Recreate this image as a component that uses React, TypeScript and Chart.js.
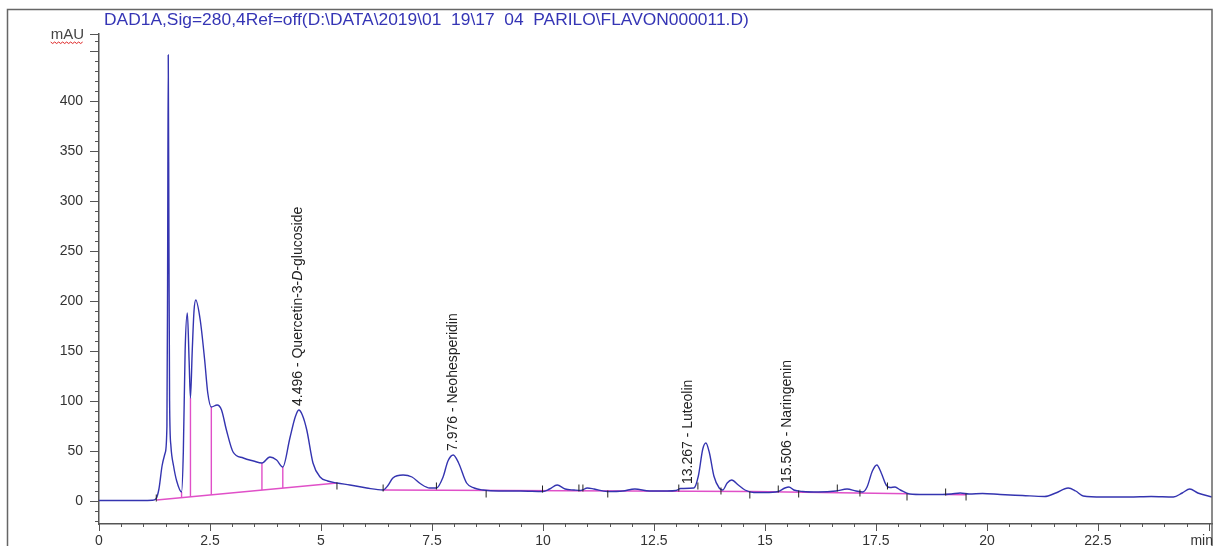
import React, { useEffect, useRef } from 'react';
import { Chart, registerables } from 'chart.js';

Chart.register(...registerables);

// ---------- data ----------
const TITLE = 'DAD1A,Sig=280,4Ref=off(D:\\DATA\\2019\\01  19\\17  04  PARILO\\FLAVON000011.D)';
const Y_UNIT = 'mAU';
const X_UNIT = 'min';

// retention time (min)
const timeMin = [
  0.0, 0.5, 1.0, 1.2, 1.28, 1.35, 1.42, 1.49, 1.53, 1.545, 1.56, 1.575, 1.59, 1.62, 1.68, 1.75, 1.86,
  1.9, 1.94, 1.99, 2.03, 2.06, 2.1, 2.14, 2.18, 2.28, 2.38, 2.45, 2.53, 2.66, 2.76, 2.87, 3.02, 3.25,
  3.48, 3.67, 3.85, 4.0, 4.14, 4.3, 4.42, 4.5, 4.58, 4.68, 4.82, 4.98, 5.15, 5.36, 5.65, 6.03, 6.4,
  6.5, 6.62, 6.85, 7.05, 7.25, 7.45, 7.6, 7.75, 7.86, 7.98, 8.1, 8.28, 8.45, 8.65, 9.0, 9.5, 10.0,
  10.15, 10.32, 10.5, 10.7, 10.85, 11.0, 11.15, 11.45, 11.8, 12.07, 12.4, 12.8, 13.0, 13.1, 13.4,
  13.5, 13.6, 13.67, 13.75, 13.85, 13.97, 14.05, 14.15, 14.25, 14.4, 14.55, 14.75, 15.0, 15.3, 15.45,
  15.54, 15.65, 15.85, 16.2, 16.6, 16.85, 17.05, 17.2, 17.3, 17.42, 17.52, 17.62, 17.73, 17.82, 17.93,
  18.05, 18.26, 18.6, 19.0, 19.2, 19.4, 19.6, 19.9, 20.3, 20.8, 21.3, 21.55, 21.83, 22.0, 22.17, 22.6,
  23.2, 23.7, 24.2, 24.4, 24.57, 24.75, 25.07,
];
// absorbance (mAU)
const absorbance = [
  0.5, 0.5, 0.5, 0.8, 2, 12, 35, 48, 75, 220, 446, 260, 100, 55, 35, 20, 9,
  50, 150, 188, 140, 103, 150, 190, 201, 181, 141, 108, 94, 96, 91, 71, 49, 43,
  40, 38, 44, 41, 34, 63, 84, 91, 86, 71, 38, 24, 20, 18, 16, 13, 11,
  15, 23, 26, 24, 17, 13, 13, 24, 40, 46, 38, 18, 13, 11, 10, 10, 9.5,
  12, 16, 12, 11, 10.5, 13, 12, 9.5, 10, 12, 10, 10, 10.5, 12.5, 13,
  25, 52, 58, 48, 25, 13, 11, 18, 21, 16, 11, 8.5, 8.5, 9.5, 13,
  14, 11, 9.5, 9, 10, 12, 10, 9, 14, 30, 36, 28, 16, 13.5, 14,
  11, 7, 6.5, 6.5, 7, 8, 7, 7.5, 6.5, 5.5, 4.5, 8, 13, 10, 5, 4,
  4, 4.5, 4, 8, 12, 8, 4,
];

// integration baselines (time, mAU)
const baseline1Time = [1.3, 5.36];
const baseline1Value = [1, 18];
const baseline2Time = [6.4, 14.7, 18.25];
const baseline2Value = [11, 9.5, 7.3];
const baseline3Time = [19.07, 19.53];
const baseline3Value = [6.5, 6.3];

// drop lines between unresolved peaks
const dropTime = [1.86, 2.06, 2.53, 3.67, 4.14];
const dropBottom = [3.3, 4.2, 6.2, 10.9, 12.9];
const dropTop = [9, 103, 94, 38, 34];

// peak start / end markers
const markerTime = [1.29, 5.36, 6.4, 7.6, 8.72, 9.99, 10.81, 10.9, 11.46, 13.06, 13.49, 14.01, 14.66, 15.3, 15.76, 16.63, 17.14, 17.76, 18.2, 19.07, 19.53];
const markerValue = [3, 15, 13, 15, 7, 12, 13, 13, 7, 13, 15, 10, 6, 12, 7, 13, 8, 15, 4, 9, 4];

// peak annotations
const peakTime = [4.496, 7.976, 13.267, 15.506];
const peakName = ['Quercetin-3-_D_-glucoside', 'Neohesperidin', 'Luteolin', 'Naringenin'];
const peakHeight = [91, 46, 13, 14];

// axis
const X_MIN = 0;
const X_MAX = 25.07;
const Y_MIN = -23;
const Y_MAX = 467;
const xTickLabels = ['0', '2.5', '5', '7.5', '10', '12.5', '15', '17.5', '20', '22.5'];
const yTickLabels = ['0', '50', '100', '150', '200', '250', '300', '350', '400'];

const FONT = '"Liberation Sans", Arial, sans-serif';
const CURVE = '#3434b0';
const PINK = '#e050c8';

const pts = (xs: number[], ys: (number | null)[]) => xs.map((x, i) => ({ x, y: ys[i] }));

const decorations = {
  id: 'decorations',
  afterDraw(chart: any) {
    const { ctx, scales } = chart;
    const xs = scales.x;
    const ys = scales.y;
    const area = chart.chartArea;
    ctx.save();

    // outer frame
    ctx.strokeStyle = '#666';
    ctx.lineWidth = 1.5;
    ctx.strokeRect(7.5, 9.5, area.right - 7.5, 600);

    // title
    ctx.fillStyle = '#3535b5';
    ctx.font = `17.4px ${FONT}`;
    ctx.textBaseline = 'middle';
    ctx.textAlign = 'left';
    ctx.fillText(TITLE, 104, 20);

    // y ticks
    ctx.strokeStyle = '#555';
    ctx.lineWidth = 1;
    for (let v = -20; v <= 460; v += 10) {
      const y = Math.round(ys.getPixelForValue(v)) + 0.5;
      const len = v % 50 === 0 ? 9 : 4;
      ctx.beginPath();
      ctx.moveTo(area.left - len, y);
      ctx.lineTo(area.left, y);
      ctx.stroke();
    }
    {
      const y = Math.round(ys.getPixelForValue(Y_MAX)) + 0.5;
      ctx.beginPath();
      ctx.moveTo(area.left - 9, y);
      ctx.lineTo(area.left, y);
      ctx.stroke();
    }
    // x ticks
    for (let i = 0; i <= 50; i++) {
      const t = i * 0.5;
      const x = Math.round(xs.getPixelForValue(t)) + 0.5;
      const len = i % 5 === 0 ? 7 : 3;
      ctx.beginPath();
      ctx.moveTo(x, area.bottom);
      ctx.lineTo(x, area.bottom + len);
      ctx.stroke();
    }

    // unit labels
    ctx.fillStyle = '#444';
    ctx.font = `15px ${FONT}`;
    ctx.textAlign = 'right';
    ctx.textBaseline = 'middle';
    const yTop = ys.getPixelForValue(Y_MAX);
    ctx.fillText(Y_UNIT, area.left - 15, yTop + 1);
    const w = ctx.measureText(Y_UNIT).width;
    // spell-check squiggle
    ctx.strokeStyle = '#d22';
    ctx.lineWidth = 1;
    ctx.beginPath();
    const sx = area.left - 15 - w;
    for (let k = 0; k <= w; k += 2) {
      const yy = yTop + 8 + (k % 4 === 0 ? 0 : 1.5);
      if (k === 0) ctx.moveTo(sx + k, yy);
      else ctx.lineTo(sx + k, yy);
    }
    ctx.stroke();

    ctx.fillStyle = '#333';
    ctx.font = `14px ${FONT}`;
    ctx.textAlign = 'right';
    ctx.fillText(X_UNIT, area.right + 1, area.bottom + 17);

    // peak annotations
    ctx.fillStyle = '#222';
    for (let i = 0; i < peakTime.length; i++) {
      const x = xs.getPixelForValue(peakTime[i]);
      const y = ys.getPixelForValue(peakHeight[i]) - 4;
      ctx.save();
      ctx.translate(x, y);
      ctx.rotate(-Math.PI / 2);
      ctx.textAlign = 'left';
      ctx.textBaseline = 'middle';
      let cx = 0;
      const parts = (peakTime[i].toFixed(3) + ' - ' + peakName[i]).split('_');
      parts.forEach((p, j) => {
        ctx.font = `${j % 2 === 1 ? 'italic ' : ''}14px ${FONT}`;
        ctx.fillText(p, cx, 0);
        cx += ctx.measureText(p).width;
      });
      ctx.restore();
    }
    ctx.restore();
  },
};

export default function App() {
  const ref = useRef<HTMLCanvasElement | null>(null);

  useEffect(() => {
    if (!ref.current) return;
    const dropData: { x: number; y: number | null }[] = [];
    dropTime.forEach((t, i) => {
      dropData.push({ x: t, y: dropBottom[i] }, { x: t, y: dropTop[i] }, { x: t, y: null });
    });

    const chart = new Chart(ref.current, {
      type: 'scatter',
      data: {
        datasets: [
          {
            data: pts(markerTime, markerValue),
            showLine: false,
            pointStyle: 'line',
            rotation: 90,
            pointRadius: 3.5,
            borderColor: '#222',
            borderWidth: 1,
          } as any,
          {
            data: pts(timeMin, absorbance),
            showLine: true,
            borderColor: CURVE,
            borderWidth: 1.4,
            pointRadius: 0,
            cubicInterpolationMode: 'monotone',
          },
          {
            data: pts(baseline1Time, baseline1Value),
            showLine: true,
            borderColor: PINK,
            borderWidth: 1.4,
            pointRadius: 0,
          },
          {
            data: pts(baseline2Time, baseline2Value),
            showLine: true,
            borderColor: PINK,
            borderWidth: 1.4,
            pointRadius: 0,
          },
          {
            data: pts(baseline3Time, baseline3Value),
            showLine: true,
            borderColor: PINK,
            borderWidth: 1.4,
            pointRadius: 0,
          },
          {
            data: dropData as any,
            showLine: true,
            spanGaps: false,
            borderColor: PINK,
            borderWidth: 1.4,
            pointRadius: 0,
          },
        ],
      },
      options: {
        responsive: false,
        animation: false,
        devicePixelRatio: 1,
        events: [],
        layout: { padding: { left: 0, right: 6, top: 34, bottom: 0 } },
        plugins: { legend: { display: false }, tooltip: { enabled: false } },
        scales: {
          x: {
            type: 'linear',
            min: X_MIN,
            max: X_MAX,
            grid: { display: false, drawTicks: false },
            border: { display: true, color: '#555', width: 1.5 },
            ticks: {
              stepSize: 2.5,
              autoSkip: false,
              maxRotation: 0,
              padding: 9,
              color: '#333',
              font: { family: FONT, size: 14 },
              callback: (v: any) => {
                const k = Math.round(Number(v) / 2.5);
                if (Math.abs(Number(v) - k * 2.5) > 1e-6) return '';
                return xTickLabels[k] ?? '';
              },
            },
            afterFit: (s: any) => {
              s.height = 22;
              s.paddingLeft = 0;
              s.paddingRight = 0;
            },
          },
          y: {
            type: 'linear',
            min: Y_MIN,
            max: Y_MAX,
            grid: { display: false, drawTicks: false },
            border: { display: true, color: '#555', width: 1.5 },
            ticks: {
              stepSize: 50,
              autoSkip: false,
              padding: 16,
              color: '#333',
              font: { family: FONT, size: 14 },
              callback: (v: any) => {
                const k = Math.round(Number(v) / 50);
                if (Math.abs(Number(v) - k * 50) > 1e-6) return '';
                return yTickLabels[k] ?? '';
              },
            },
            afterFit: (s: any) => {
              s.width = 99;
              s.paddingTop = 0;
              s.paddingBottom = 0;
            },
          },
        },
      },
      plugins: [decorations],
    });
    return () => chart.destroy();
  }, []);

  return (
    <div style={{ position: 'absolute', left: 0, top: 0, width: 1218, height: 546, background: '#fff' }}>
      <canvas ref={ref} width={1218} height={546} style={{ display: 'block' }} />
    </div>
  );
}
